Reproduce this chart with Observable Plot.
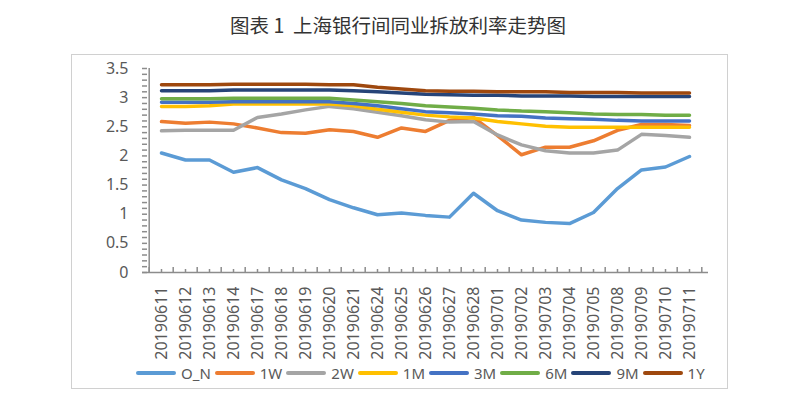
<!DOCTYPE html>
<html><head><meta charset="utf-8">
<script src="https://cdn.jsdelivr.net/npm/d3@7"></script>
<script src="https://cdn.jsdelivr.net/npm/@observablehq/plot@0.6"></script>
<style>
html,body{margin:0;padding:0;background:#fff;width:796px;height:399px;overflow:hidden;position:relative;font-family:"Noto Sans","Noto Sans CJK SC",sans-serif;}
#title{position:absolute;left:0;top:13px;width:796px;text-align:center;font-family:"Noto Sans CJK SC",sans-serif;font-size:19.5px;color:#333;line-height:24px;white-space:pre;}
#box{position:absolute;left:71px;top:54px;width:657px;height:335px;border:1px solid #d0d0d0;box-sizing:border-box;background:transparent;}
#chart{position:absolute;left:71px;top:54px;}
#legend{position:absolute;left:136px;top:363px;height:20px;display:flex;align-items:center;font-size:15px;color:#595959;}
#legend .sw{width:40px;height:4px;margin-right:5px;border-radius:2px;}
#legend .lb{margin-right:4px;line-height:20px;}
</style>
</head><body>
<div id="title">图表 1  上海银行间同业拆放利率走势图</div>
<div id="chart"></div>
<div id="legend"></div>
<div id="box"></div>
<script>
const dates = ["20190611","20190612","20190613","20190614","20190617","20190618","20190619","20190620","20190621","20190624","20190625","20190626","20190627","20190628","20190701","20190702","20190703","20190704","20190705","20190708","20190709","20190710","20190711"];
const seriesNames = ["O_N","1W","2W","1M","3M","6M","9M","1Y"];
const seriesColors = ["#5B9BD5","#ED7D31","#A5A5A5","#FFC000","#4472C4","#70AD47","#264478","#9E480E"];
const valsON = [2.05,1.93,1.93,1.72,1.80,1.59,1.44,1.25,1.11,0.99,1.02,0.98,0.95,1.36,1.06,0.90,0.86,0.84,1.03,1.44,1.76,1.81,1.99];
const vals1W = [2.59,2.56,2.58,2.55,2.48,2.40,2.39,2.45,2.42,2.32,2.48,2.42,2.61,2.66,2.35,2.02,2.15,2.15,2.26,2.44,2.54,2.54,2.52];
const vals2W = [2.43,2.44,2.44,2.44,2.66,2.72,2.79,2.85,2.81,2.75,2.69,2.62,2.58,2.59,2.36,2.19,2.09,2.05,2.05,2.10,2.37,2.35,2.32];
const vals1M = [2.85,2.85,2.86,2.89,2.89,2.89,2.89,2.89,2.86,2.80,2.75,2.70,2.67,2.65,2.59,2.55,2.51,2.49,2.49,2.49,2.49,2.49,2.49];
const vals3M = [2.92,2.92,2.92,2.93,2.93,2.93,2.93,2.93,2.90,2.86,2.81,2.76,2.74,2.72,2.69,2.68,2.65,2.64,2.63,2.61,2.60,2.60,2.60];
const vals6M = [2.98,2.98,2.98,2.99,2.99,2.99,2.99,2.99,2.96,2.93,2.90,2.86,2.84,2.82,2.79,2.77,2.76,2.74,2.72,2.71,2.71,2.70,2.70];
const vals9M = [3.12,3.12,3.12,3.13,3.13,3.13,3.13,3.13,3.12,3.10,3.08,3.06,3.05,3.04,3.04,3.03,3.03,3.03,3.02,3.02,3.02,3.02,3.02];
const vals1Y = [3.22,3.22,3.22,3.23,3.23,3.23,3.23,3.22,3.22,3.18,3.15,3.12,3.11,3.11,3.10,3.10,3.10,3.09,3.09,3.09,3.08,3.08,3.08];
const yTickLabels = [0, 0.5, 1, 1.5, 2, 2.5, 3, 3.5];
const yMinorTicks = d3.range(0, 36).map(i => i / 10);

const allVals = [valsON, vals1W, vals2W, vals1M, vals3M, vals6M, vals9M, vals1Y];
const data = seriesNames.flatMap((s, k) => dates.map((d, i) => ({date: d, value: allVals[k][i], series: s})));

const W = 656, H = 310, ML = 71, MR = 19, MT = 14, MB = 92;
const step = (W - ML - MR) / dates.length;
const axisColor = "#8c8c8c";

const chart = Plot.plot({
  width: W, height: H,
  marginLeft: ML, marginRight: MR, marginTop: MT, marginBottom: MB,
  style: {fontFamily: '"Noto Sans", sans-serif', fontSize: "16px", color: "#595959", background: "transparent"},
  x: {type: "point", domain: dates, padding: 0.5, axis: null, label: null},
  y: {domain: [0, 3.5], axis: null, label: null},
  color: {domain: seriesNames, range: seriesColors},
  marks: [
    Plot.axisY({ticks: yTickLabels, tickSize: 0, tickPadding: 14, tickFormat: d => String(d), fill: "#595959", label: null}),
    Plot.axisY({ticks: yMinorTicks, tickSize: 5, dx: 5, tickFormat: () => "", stroke: axisColor, strokeWidth: 1.5, label: null}),
    Plot.ruleX([dates[0]], {y1: 0, y2: 3.5, dx: -step / 2, stroke: axisColor, strokeWidth: 1.5}),
    Plot.ruleY([0], {stroke: axisColor, strokeWidth: 1.5}),
    Plot.axisX({ticks: dates, tickSize: 5, dy: -5, dx: -step / 2, tickFormat: () => "", stroke: axisColor, strokeWidth: 1.5, label: null}),
    Plot.axisX({ticks: [dates[dates.length - 1]], tickSize: 5, dy: -5, dx: step / 2, tickFormat: () => "", stroke: axisColor, strokeWidth: 1.5, label: null}),
    Plot.axisX({ticks: dates, tickSize: 3, dy: -3, tickFormat: () => "", stroke: axisColor, strokeWidth: 1.5, label: null}),
    Plot.axisX({ticks: dates, tickSize: 0, tickPadding: 14, tickRotate: -90, fill: "#595959", label: null}),
    Plot.line(data, {x: "date", y: "value", z: "series", stroke: "series", strokeWidth: 3.5, strokeLinejoin: "round", strokeLinecap: "round"})
  ]
});
document.getElementById("chart").appendChild(chart);

const legend = document.getElementById("legend");
seriesNames.forEach((s, k) => {
  const sw = document.createElement("div");
  sw.className = "sw";
  sw.style.background = seriesColors[k];
  const lb = document.createElement("div");
  lb.className = "lb";
  lb.textContent = s;
  legend.appendChild(sw);
  legend.appendChild(lb);
});
</script>
</body></html>
